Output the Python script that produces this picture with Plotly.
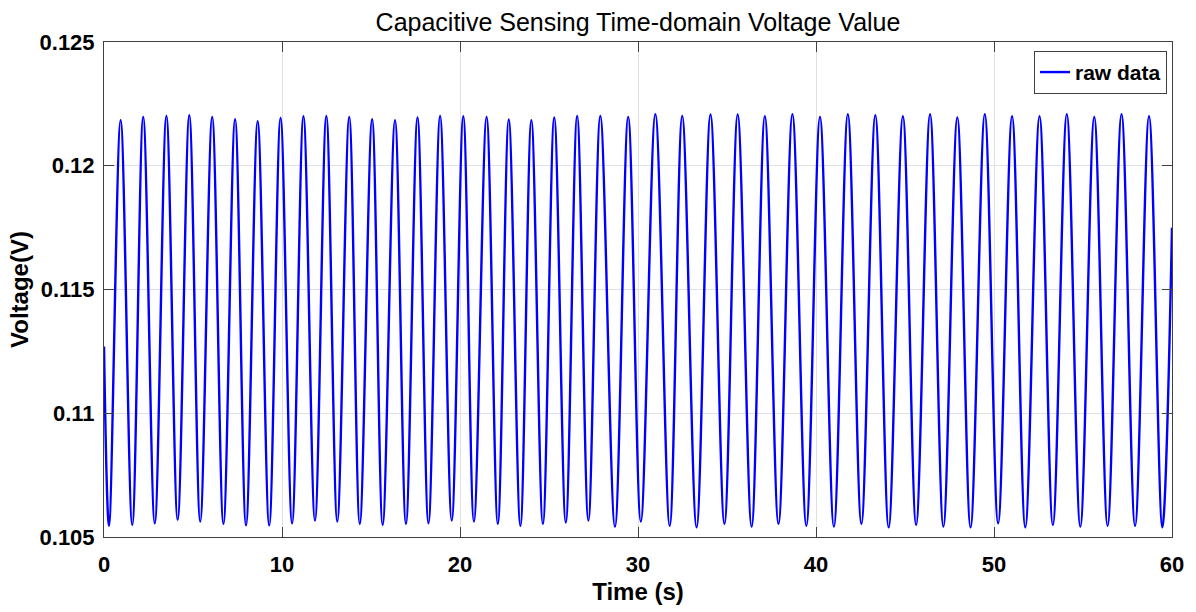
import plotly.graph_objects as go

# Extrema (start, alternating troughs/peaks, end)
time_s = [
    0.0, 0.28, 0.934, 1.588, 2.203, 2.852, 3.506, 4.138, 4.792, 5.407, 6.078,
    6.710, 7.364, 7.979, 8.633, 9.281, 9.919, 10.567, 11.205, 11.853, 12.491,
    13.106, 13.777, 14.370, 15.063, 15.656, 16.349, 16.964, 17.613, 18.228, 18.882,
    19.536, 20.185, 20.783, 21.493, 22.125, 22.740, 23.394, 24.009, 24.658, 25.295,
    25.944, 26.581, 27.213, 27.884, 28.706, 29.449, 30.159, 30.976, 31.781, 32.485,
    33.291, 34.073, 34.856, 35.600, 36.383, 37.126, 37.892, 38.675, 39.458, 40.224,
    41.006, 41.789, 42.550, 43.333, 44.082, 44.881, 45.625, 46.408, 47.157, 47.940,
    48.683, 49.483, 50.232, 51.015, 51.759, 52.558, 53.307, 54.090, 54.850, 55.633,
    56.382, 57.165, 57.926, 58.709, 59.458, 60.0,
]
voltage_v = [
    0.1127, 0.10545, 0.12184, 0.10549, 0.12197, 0.10555, 0.12201, 0.10569, 0.12204, 0.10562, 0.12197,
    0.10553, 0.12188, 0.10547, 0.12180, 0.10547, 0.12193, 0.10555, 0.12200, 0.10566, 0.12201,
    0.10562, 0.12197, 0.10553, 0.12188, 0.10549, 0.12184, 0.10553, 0.12195, 0.10555, 0.12201,
    0.10566, 0.12200, 0.10562, 0.12197, 0.10553, 0.12187, 0.10545, 0.12184, 0.10553, 0.12195,
    0.10558, 0.12201, 0.10566, 0.12201, 0.10542, 0.12197, 0.10562, 0.12208, 0.10545, 0.12201,
    0.10539, 0.12207, 0.10553, 0.12207, 0.10542, 0.12200, 0.10553, 0.12208, 0.10545, 0.12197,
    0.10542, 0.12208, 0.10553, 0.12204, 0.10539, 0.12200, 0.10549, 0.12208, 0.10542, 0.12195,
    0.10539, 0.12208, 0.10555, 0.12200, 0.10539, 0.12200, 0.10549, 0.12208, 0.10542, 0.12197,
    0.10545, 0.12208, 0.10545, 0.12200, 0.10539, 0.1175,
]

x_ticks = [0, 10, 20, 30, 40, 50, 60]
y_ticks = [0.105, 0.11, 0.115, 0.12, 0.125]
y_tick_text = ["0.105", "0.11", "0.115", "0.12", "0.125"]

FONT = "Liberation Sans, Arial, sans-serif"
AXIS_COLOR = "#404040"
GRID_COLOR = "#e0e0e0"

fig = go.Figure()
fig.add_trace(go.Scatter(
    x=time_s, y=voltage_v, mode="lines", name="raw data",
    line=dict(color="#0000ff", width=2.4, shape="spline", smoothing=1.0),
))

fig.update_layout(
    width=1196, height=612,
    margin=dict(l=104, r=20, t=42, b=72),
    paper_bgcolor="white", plot_bgcolor="white",
    font=dict(family=FONT, color="black"),
    title=dict(text="Capacitive Sensing Time-domain Voltage Value",
               x=0.5, xref="paper", xanchor="center",
               y=1 - 22 / 612, yref="container", yanchor="middle",
               font=dict(family=FONT, size=25, color="black")),
    showlegend=True,
    legend=dict(x=0.9953, y=0.982, xanchor="right", yanchor="top",
                bgcolor="white", bordercolor=AXIS_COLOR, borderwidth=1,
                font=dict(family=FONT, size=21, color="black", weight="bold"),
                itemwidth=30, tracegroupgap=0),
)

fig.update_xaxes(
    range=[0, 60], tickvals=x_ticks, ticktext=[str(v) for v in x_ticks],
    showline=True, linecolor=AXIS_COLOR, linewidth=1, mirror="ticks",
    ticks="inside", ticklen=10, tickcolor=AXIS_COLOR, tickwidth=1,
    showgrid=True, gridcolor=GRID_COLOR, gridwidth=1, zeroline=False,
    tickfont=dict(family=FONT, size=22, color="black", weight="bold"),
    ticklabelstandoff=8,
    title=dict(text="Time (s)", standoff=6,
               font=dict(family=FONT, size=24, color="black", weight="bold")),
)
fig.update_yaxes(
    range=[0.105, 0.125], tickvals=y_ticks, ticktext=y_tick_text,
    showline=True, linecolor=AXIS_COLOR, linewidth=1, mirror="ticks",
    ticks="inside", ticklen=10, tickcolor=AXIS_COLOR, tickwidth=1,
    showgrid=True, gridcolor=GRID_COLOR, gridwidth=1, zeroline=False,
    tickfont=dict(family=FONT, size=22, color="black", weight="bold"),
    ticklabelstandoff=4,
    title=dict(text="Voltage(V)", standoff=4,
               font=dict(family=FONT, size=24, color="black", weight="bold")),
)

fig.write_html("out.html")
